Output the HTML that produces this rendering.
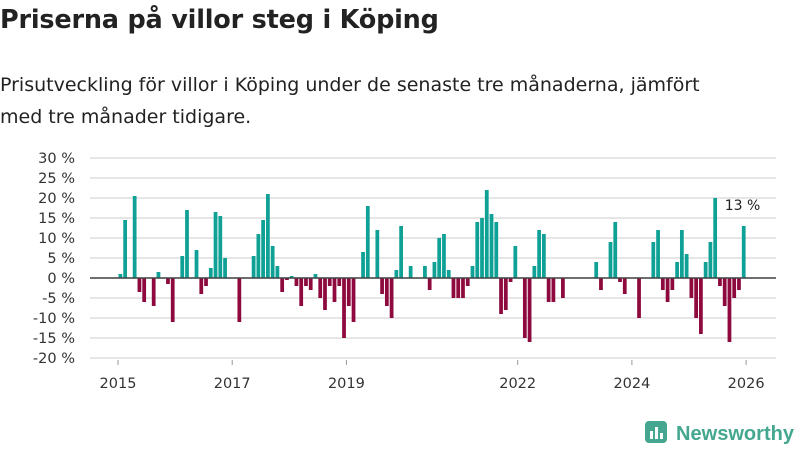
<!DOCTYPE html>
<html><head><meta charset="utf-8">
<style>
body{margin:0;background:#fff;width:800px;height:450px;overflow:hidden;font-family:"DejaVu Sans","Liberation Sans",sans-serif;color:#222}
h1{position:absolute;left:0;top:5px;margin:0;font-size:25.5px;font-weight:bold;letter-spacing:-0.2px}
p{position:absolute;left:0;top:69px;margin:0;font-size:19px;line-height:32px;width:720px;color:#222}
svg{position:absolute;left:0;top:0}
</style></head><body>
<h1>Priserna på villor steg i Köping</h1>
<p>Prisutveckling för villor i Köping under de senaste tre månaderna, jämfört med tre månader tidigare.</p>
<svg id="chart" width="800" height="450"></svg>
<script>
const monthIndex=[0,1,3,4,5,7,8,10,11,13,14,16,17,18,19,20,21,22,25,28,29,30,31,32,33,34,35,36,37,38,39,40,41,42,43,44,45,46,47,48,49,51,52,54,55,56,57,58,59,61,64,65,66,67,68,69,70,71,72,73,74,75,76,77,78,79,80,81,82,83,85,86,87,88,89,90,91,93,100,101,103,104,105,106,109,112,113,114,115,116,117,118,119,120,121,122,123,124,125,126,127,128,129,130,131];
const values=[1,14.5,20.5,-3.5,-6,-7,1.5,-1.5,-11,5.5,17,7,-4,-2,2.5,16.5,15.5,5,-11,5.5,11,14.5,21,8,3,-3.5,-0.5,0.5,-2,-7,-2,-3,1,-5,-8,-2,-6,-2,-15,-7,-11,6.5,18,12,-4,-7,-10,2,13,3,3,-3,4,10,11,2,-5,-5,-5,-2,3,14,15,22,16,14,-9,-8,-1,8,-15,-16,3,12,11,-6,-6,-5,4,-3,9,14,-1,-4,-10,9,12,-3,-6,-3,4,12,6,-5,-10,-14,4,9,20,-2,-7,-16,-5,-3,13];
const yTicks=[30,25,20,15,10,5,0,-5,-10,-15,-20];
const xTickYears=[2015,2017,2019,2022,2024,2026];
const lastLabel="13 %";
const NS="http://www.w3.org/2000/svg";
const svg=document.getElementById('chart');
const x0=118,pxYear=57.1,yZero=278,pxPct=4;
function xm(i){return x0+(i+0.5)*pxYear/12;}
function xy(year){return x0+(year-2015)*pxYear;}
function yv(v){return yZero-v*pxPct;}
function mk(t,a){const e=document.createElementNS(NS,t);for(const k in a)e.setAttribute(k,a[k]);svg.appendChild(e);return e;}
yTicks.forEach(t=>{
  const l=mk('line',{x1:90,x2:776,y1:yv(t),y2:yv(t),stroke:'#dedede','stroke-width':1.5});
  
  
  const tx=mk('text',{x:75,y:yv(t)+5,'text-anchor':'end','font-size':14.5,fill:'#333'});
  tx.textContent=t+' %';
  
  
});
xTickYears.forEach(yr=>{
  const tk=mk('line',{x1:xy(yr),x2:xy(yr),y1:360,y2:365,stroke:'#999','stroke-width':1});
  
  
  const tx=mk('text',{x:xy(yr),y:388,'text-anchor':'middle','font-size':14.5,fill:'#333'});
  tx.textContent=yr;
  
  
});
const bw=pxYear/12-1;
monthIndex.forEach((m,k)=>{
  const v=values[k];
  const y=v>=0?yv(v):yZero;
  const r=mk('rect',{x:xm(m)-bw/2,y:y,width:bw,height:Math.abs(v)*pxPct,fill:v>=0?'#0fa195':'#8e0a3e'});
  
  
});
const z=mk('line',{x1:90,x2:776,y1:yZero,y2:yZero,stroke:'#444','stroke-width':1.5});


const li=monthIndex.length-1;
const lb=mk('text',{x:xm(monthIndex[li])-19,y:yv(values[li])-16,'font-size':14,fill:'#222'});
lb.textContent=lastLabel;


</script>
<svg width="800" height="450" style="pointer-events:none">
<rect x="645" y="421" width="22" height="22" rx="4" fill="#45a78f"/>
<rect x="650" y="431" width="3" height="8" fill="#fff"/>
<rect x="655" y="427" width="3" height="12" fill="#fff"/>
<rect x="660" y="433" width="3" height="6" fill="#fff"/>
<text x="676" y="440" font-size="20" font-weight="bold" fill="#45a78f" font-family="Liberation Sans, sans-serif" textLength="118" lengthAdjust="spacingAndGlyphs">Newsworthy</text>
</svg>
</body></html>
